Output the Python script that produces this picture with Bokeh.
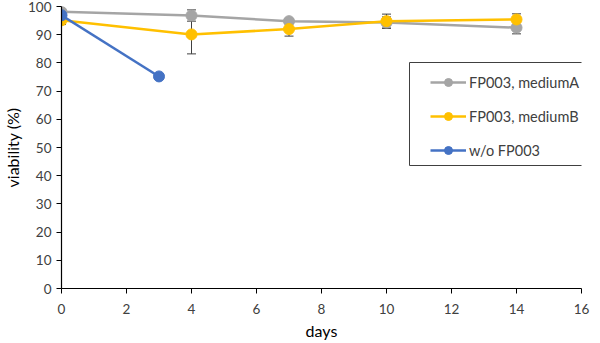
from bokeh.plotting import figure
from bokeh.models import ColumnDataSource, Whisker, TeeHead, Legend, LegendItem, Range1d, FixedTicker, BoxAnnotation
from bokeh.embed import file_html
from bokeh.resources import INLINE

days_a = [0, 4, 7, 10, 14]
viab_a = [98.1, 96.8, 94.8, 94.3, 92.5]
err_a = [0.8, 2.0, 0.8, 2.0, 2.2]

days_b = [0, 4, 7, 10, 14]
viab_b = [95.1, 90.1, 92.0, 94.8, 95.4]
err_b = [1.5, 6.9, 2.5, 2.5, 2.0]

days_c = [0, 3]
viab_c = [96.9, 75.2]

labels = ["FP003, mediumA", "FP003, mediumB", "w/o FP003"]
colors = ["#A5A5A5", "#FFC000", "#4472C4"]

FONT = "Lato"

p = figure(width=600, height=343, output_backend="svg", toolbar_location=None,
           x_range=Range1d(0, 16), y_range=Range1d(0, 100),
           min_border_left=61, min_border_right=19, min_border_top=6, min_border_bottom=55)
p.outline_line_color = None
p.grid.visible = False
p.background_fill_color = "white"
p.border_fill_color = "white"

for ax in (p.xaxis[0], p.yaxis[0]):
    ax.axis_line_color = "black"
    ax.axis_line_width = 1.2
    ax.major_tick_line_color = "black"
    ax.minor_tick_line_color = None
    ax.major_tick_out = 5
    ax.major_tick_in = 0
    ax.major_label_text_font = FONT
    ax.major_label_text_font_size = "13.5px"
    ax.major_label_text_color = "#404040"
    ax.axis_label_text_font = FONT
    ax.axis_label_text_font_size = "16px"
    ax.axis_label_text_font_style = "normal"
    ax.axis_label_text_color = "black"

p.xaxis.ticker = FixedTicker(ticks=list(range(0, 17, 2)))
p.yaxis.ticker = FixedTicker(ticks=list(range(0, 101, 10)))
p.xaxis.axis_label = "days"
p.yaxis.axis_label = "viability (%)"
p.xaxis.major_label_standoff = 10
p.yaxis.major_label_standoff = 5
p.xaxis.axis_label_standoff = 4
p.yaxis.axis_label_standoff = 3

items = []
srcs = []
for d, v, e, c in [(days_a, viab_a, err_a, colors[0]), (days_b, viab_b, err_b, colors[1])]:
    src = ColumnDataSource(dict(x=d, y=v, lo=[a - b for a, b in zip(v, e)], hi=[a + b for a, b in zip(v, e)]))
    srcs.append(src)
    l = p.line("x", "y", source=src, line_color=c, line_width=2.5)
    s = p.scatter("x", "y", source=src, size=11, fill_color=c, line_color=c)
    items.append([l, s])

for src in srcs:
    w = Whisker(source=src, base="x", lower="lo", upper="hi", line_color="#404040", line_width=1,
                upper_head=TeeHead(size=9, line_color="#404040", line_width=1),
                lower_head=TeeHead(size=9, line_color="#404040", line_width=1))
    p.add_layout(w)

src_c = ColumnDataSource(dict(x=days_c, y=viab_c))
l = p.line("x", "y", source=src_c, line_color=colors[2], line_width=2.5)
s = p.scatter("x", "y", source=src_c, size=11, fill_color=colors[2], line_color=colors[2])
items.append([l, s])

# legend frame (screen units, relative to the plot frame's bottom-left)
box = BoxAnnotation(left=348, right=538, top=226, bottom=123,
                    left_units="screen", right_units="screen", top_units="screen", bottom_units="screen",
                    fill_color="white", fill_alpha=1.0, line_color="#404040", line_width=1, line_alpha=1.0)
p.add_layout(box)

legend = Legend(items=[LegendItem(label=lab, renderers=r) for lab, r in zip(labels, items)],
                location=(369, 128))
legend.border_line_color = None
legend.background_fill_alpha = 0
legend.label_text_font = FONT
legend.label_text_font_size = "14.5px"
legend.label_text_color = "#404040"
legend.glyph_width = 36
legend.glyph_height = 20
legend.spacing = 14
legend.padding = 0
legend.margin = 0
legend.label_standoff = 3
p.add_layout(legend, "center")

open("out.html", "w").write(file_html(p, INLINE))
